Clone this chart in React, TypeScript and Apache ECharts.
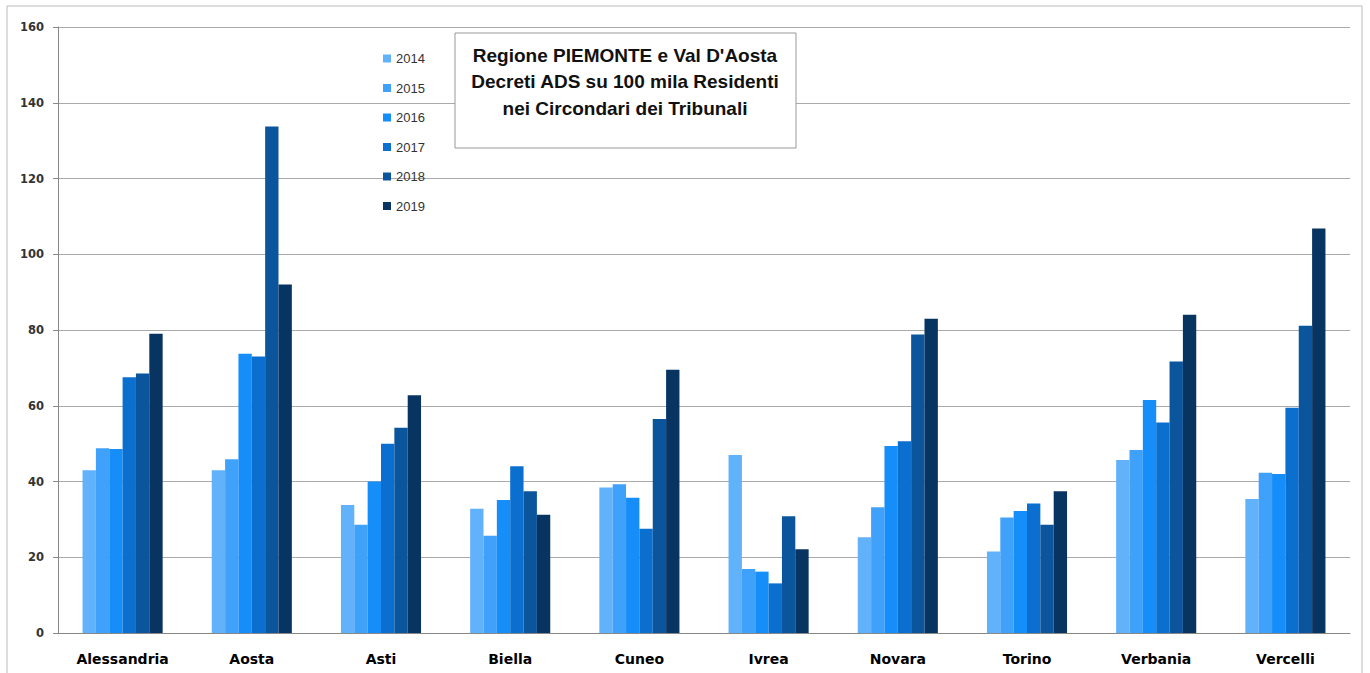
import React, { useEffect, useRef } from "react";
import * as echarts from "echarts";

const categories = ["Alessandria", "Aosta", "Asti", "Biella", "Cuneo", "Ivrea", "Novara", "Torino", "Verbania", "Vercelli"];
const years = ["2014", "2015", "2016", "2017", "2018", "2019"];
const v2014 = [43.0, 43.0, 33.8, 32.8, 38.4, 47.0, 25.3, 21.5, 45.7, 35.4];
const v2015 = [48.8, 45.9, 28.6, 25.7, 39.3, 16.9, 33.2, 30.5, 48.3, 42.3];
const v2016 = [48.6, 73.7, 40.0, 35.1, 35.7, 16.2, 49.4, 32.2, 61.5, 42.0];
const v2017 = [67.5, 73.0, 50.0, 44.0, 27.5, 13.1, 50.6, 34.2, 55.6, 59.5];
const v2018 = [68.5, 133.7, 54.2, 37.4, 56.5, 30.8, 78.8, 28.6, 71.7, 81.1];
const v2019 = [79.0, 92.0, 62.8, 31.2, 69.5, 22.1, 83.0, 37.4, 84.0, 106.8];
const seriesValues = [v2014, v2015, v2016, v2017, v2018, v2019];
const colors = ["#62b1fb", "#40a1fa", "#168efa", "#0b6fcf", "#0a559c", "#083462"];
const titleLines = ["Regione PIEMONTE e Val D'Aosta", "Decreti ADS su 100 mila Residenti", "nei Circondari dei Tribunali"];

export default function App() {
  const ref = useRef<HTMLDivElement>(null);
  useEffect(() => {
    if (!ref.current) return;
    const chart = echarts.init(ref.current, null, { renderer: "svg" });
    chart.setOption({
      animation: false,
      backgroundColor: "#ffffff",
      grid: { left: 58, right: 20, top: 27, bottom: 40, containLabel: false },
      legend: {
        data: years,
        orient: "vertical",
        left: 378,
        top: 47,
        itemWidth: 8,
        itemHeight: 8,
        itemGap: 16.5,
        icon: "rect",
        textStyle: { fontFamily: "Liberation Sans", fontSize: 13, color: "#333" },
      },
      xAxis: {
        type: "category",
        data: categories,
        axisLine: { lineStyle: { color: "#888" } },
        axisTick: { length: 5, lineStyle: { color: "#888" } },
        axisLabel: { fontFamily: "DejaVu Sans", fontWeight: "bold", fontSize: 14, color: "#000", margin: 19 },
      },
      yAxis: {
        type: "value",
        min: 0,
        max: 160,
        interval: 20,
        axisLine: { show: true, lineStyle: { color: "#888" } },
        axisTick: { show: true, length: 5, lineStyle: { color: "#888" } },
        axisLabel: { fontFamily: "DejaVu Sans", fontWeight: "bold", fontSize: 11.5, color: "#333", margin: 14 },
        splitLine: { lineStyle: { color: "#aaa" } },
      },
      series: years.map((y, i) => ({
        name: y,
        type: "bar",
        data: seriesValues[i],
        itemStyle: { color: colors[i] },
        barGap: "0%",
        barCategoryGap: "38%",
      })),
      graphic: [
        {
          type: "rect",
          shape: { x: 7, y: 6, width: 1355, height: 720 },
          style: { fill: "none", stroke: "#bbb", lineWidth: 1 },
          silent: true,
        },
        {
          type: "rect",
          shape: { x: 455, y: 33, width: 341, height: 115 },
          style: { fill: "#fff", stroke: "#999", lineWidth: 1 },
          z: 100,
        },
        ...titleLines.map((t, i) => ({
          type: "text",
          x: 625,
          y: 55 + i * 26.5,
          z: 101,
          style: {
            text: t,
            fill: "#111",
            font: "bold 19px 'Liberation Sans'",
            textAlign: "center",
            textVerticalAlign: "middle",
          },
        })),
      ],
    });
    return () => chart.dispose();
  }, []);
  return <div ref={ref} style={{ position: "absolute", left: 0, top: 0, width: 1370, height: 673 }} />;
}
